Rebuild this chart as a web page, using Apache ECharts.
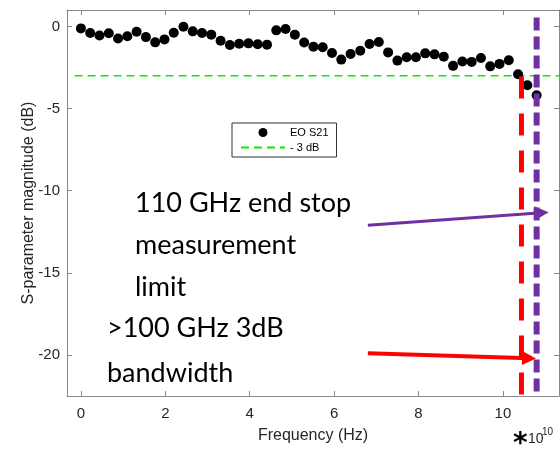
<!DOCTYPE html>
<html>
<head>
<meta charset="utf-8">
<script src="https://cdn.jsdelivr.net/npm/echarts@6/dist/echarts.min.js"></script>
<style>
  html, body { margin: 0; padding: 0; background: #fff; }
  #chart { width: 560px; height: 450px; }
</style>
</head>
<body>
<div id="chart"></div>
<script>
// frequency in units of 1e10 Hz
var freq = [0, 0.22, 0.44, 0.66, 0.88, 1.10, 1.32, 1.54, 1.76, 1.98,
    2.20, 2.43, 2.65, 2.87, 3.09, 3.31, 3.53, 3.75, 3.97, 4.19,
    4.41, 4.63, 4.85, 5.07, 5.29, 5.51, 5.73, 5.95, 6.17, 6.39,
    6.62, 6.84, 7.06, 7.28, 7.50, 7.72, 7.94, 8.16, 8.38, 8.60,
    8.82, 9.04, 9.26, 9.48, 9.70, 9.92, 10.14, 10.36, 10.58, 10.80];
var s21 = [-0.12, -0.40, -0.55, -0.42, -0.73, -0.60, -0.32, -0.65, -0.97, -0.79,
    -0.38, -0.02, -0.30, -0.40, -0.50, -0.87, -1.13, -1.05, -1.03, -1.09,
    -1.11, -0.24, -0.16, -0.50, -0.98, -1.23, -1.27, -1.62, -2.02, -1.68,
    -1.48, -1.07, -0.95, -1.58, -2.08, -1.88, -1.88, -1.64, -1.70, -1.84,
    -2.40, -2.14, -2.16, -1.92, -2.43, -2.28, -2.06, -2.91, -3.58, -4.19];
var xTicks = [0, 2, 4, 6, 8, 10];
var yTicks = [-20, -15, -10, -5, 0];
var xRange = [-0.33, 11.33];
var yRange = [-22.5, 1];

var line3dB = [[-0.15, -3], [11.33, -3]];
var bwLine = [[10.44, -3.05], [10.44, -22.5]];
var stopLine = [[10.8, 0.55], [10.8, -22.5]];
var arrowStop = [[6.8, -12.1], [10.92, -11.34]];
var arrowBw = [[6.8, -19.9], [10.62, -20.2]];

var noteStop = ['110 GHz end stop', 'measurement', 'limit'];
var noteBw = ['>100 GHz 3dB', 'bandwidth'];

var axisGray = '#888888';
var labelColor = '#262626';

function pairs(xs, ys) {
    var out = [];
    for (var i = 0; i < xs.length; i++) {
        out.push([xs[i], ys[i]]);
    }
    return out;
}

var chart = echarts.init(document.getElementById('chart'));

var baseX = {
    type: 'value',
    min: xRange[0],
    max: xRange[1],
    splitLine: { show: false },
    axisLine: { show: true, onZero: false, lineStyle: { color: axisGray, width: 1 } },
    axisTick: { show: true, inside: true, length: 5, lineStyle: { color: axisGray }, customValues: xTicks },
    axisLabel: { show: false }
};
var baseY = {
    type: 'value',
    min: yRange[0],
    max: yRange[1],
    splitLine: { show: false },
    axisLine: { show: true, onZero: false, lineStyle: { color: axisGray, width: 1 } },
    axisTick: { show: true, inside: true, length: 5, lineStyle: { color: axisGray }, customValues: yTicks },
    axisLabel: { show: false }
};

/* big annotation texts */
var textLines = [];
var stopTop = [206, 247.5, 289.5];
for (var i = 0; i < noteStop.length; i++) {
    textLines.push({
        type: 'text', left: 135, top: stopTop[i] - 16, z: 100,
        style: { text: noteStop[i], fontFamily: 'Lato', fontSize: 27, fill: '#000' }
    });
}
var bwTop = [331, 376];
for (var j = 0; j < noteBw.length; j++) {
    textLines.push({
        type: 'text', left: 107, top: bwTop[j] - 16, z: 100,
        style: { text: noteBw[j], fontFamily: 'Lato', fontSize: 27, fill: '#000' }
    });
}
// x10^10 exponent mark
textLines.push({
    type: 'text', left: 513, top: 431, z: 100,
    style: { text: '*', fontSize: 28, fontFamily: 'DejaVu Sans', fontWeight: 'bold', fill: '#000' }
});
textLines.push({
    type: 'text', left: 528, top: 432, z: 100,
    style: { text: '10', fontSize: 14, fontFamily: 'Liberation Sans', fill: labelColor }
});
textLines.push({
    type: 'text', left: 542, top: 427, z: 100,
    style: { text: '10', fontSize: 10, fontFamily: 'Liberation Sans', fill: labelColor }
});

var option = {
    animation: false,
    backgroundColor: '#fff',
    textStyle: { fontFamily: 'Liberation Sans' },
    grid: {
        left: 67, right: 1, top: 10, bottom: 54
    },
    legend: {
        data: [
            { name: 'EO S21', icon: 'circle' },
            { name: '- 3 dB', itemStyle: { opacity: 0 } }
        ],
        orient: 'vertical',
        left: 232,
        top: 123,
        itemWidth: 44,
        itemHeight: 9,
        itemGap: 4,
        padding: [4, 8, 4, 8],
        backgroundColor: '#fff',
        borderColor: '#333',
        borderWidth: 1,
        borderRadius: 0,
        textStyle: { fontSize: 11, color: '#000', fontFamily: 'Liberation Sans' },
        z: 50
    },
    xAxis: [
        Object.assign({}, baseX, {
            position: 'bottom',
            name: 'Frequency (Hz)',
            nameLocation: 'middle',
            nameGap: 32,
            nameTextStyle: { fontSize: 16, color: labelColor },
            axisLabel: { show: true, customValues: xTicks, fontSize: 15, color: labelColor, margin: 10 }
        }),
        Object.assign({}, baseX, { position: 'top' })
    ],
    yAxis: [
        Object.assign({}, baseY, {
            position: 'left',
            name: 'S-parameter magnitude (dB)',
            nameLocation: 'middle',
            nameGap: 30,
            nameMoveOverlap: false,
            nameTextStyle: { fontSize: 16, color: labelColor },
            axisLabel: { show: true, customValues: yTicks, fontSize: 15, color: labelColor, margin: 7 }
        }),
        Object.assign({}, baseY, { position: 'right' })
    ],
    series: [
        {
            name: '- 3 dB',
            type: 'line',
            data: line3dB,
            symbol: 'none',
            lineStyle: { color: '#00f000', width: 1.5, type: [8, 5] },
            itemStyle: { color: '#00f000' },
            z: 2
        },
        {
            name: 'EO S21',
            type: 'scatter',
            data: pairs(freq, s21),
            symbol: 'circle',
            symbolSize: 10,
            itemStyle: { color: '#000', opacity: 1 },
            z: 3
        },
        {
            name: 'bw',
            type: 'line',
            data: bwLine,
            symbol: 'none',
            lineStyle: { color: '#ff0000', width: 5, type: [22, 15] },
            z: 4
        },
        {
            name: 'stop',
            type: 'line',
            data: stopLine,
            symbol: 'none',
            lineStyle: { color: '#7030a0', width: 6, type: [13, 6] },
            z: 4
        },
        {
            name: 'arrows',
            type: 'line',
            data: [],
            markLine: {
                silent: true,
                symbol: ['none', 'triangle'],
                symbolSize: [14, 14],
                label: { show: false },
                animation: false,
                data: [
                    [{ coord: arrowStop[0], lineStyle: { color: '#7030a0', width: 3, type: 'solid' } },
                     { coord: arrowStop[1] }],
                    [{ coord: arrowBw[0], lineStyle: { color: '#ff0000', width: 4, type: 'solid' } },
                     { coord: arrowBw[1] }]
                ]
            },
            z: 5
        }
    ],
    graphic: textLines
};
chart.setOption(option);
</script>
</body>
</html>
